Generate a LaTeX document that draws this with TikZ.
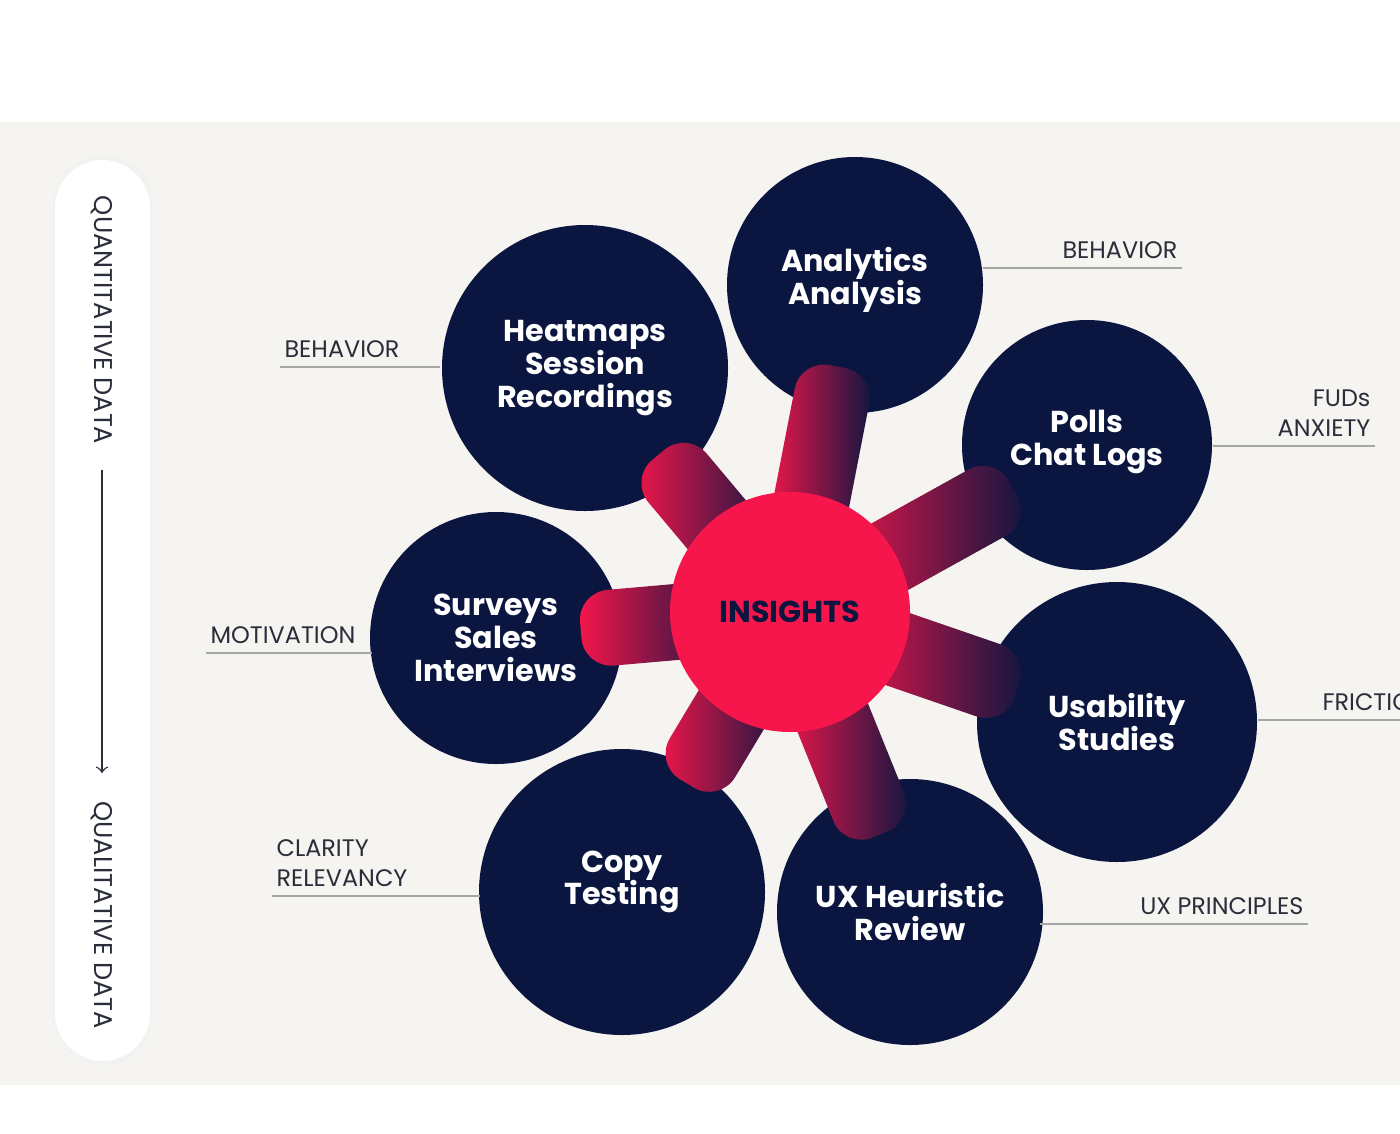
\documentclass[tikz,border=0pt]{standalone}
\usepackage{fontspec}
\setmainfont{Poppins}
\usetikzlibrary{calc}
\usetikzlibrary{positioning}
\definecolor{navy}{HTML}{0B1640}
\definecolor{insred}{HTML}{F7164B}
\definecolor{paper}{HTML}{F6F4F0}
\definecolor{ink}{HTML}{2A2E3A}
\begin{document}
\begin{tikzpicture}[semithick]
	\tikzstyle{sat}=[circle, fill=navy, text=white, font=\bfseries\fontsize{8.6}{9.3}\selectfont, align=center, inner sep=0pt]
	\tikzstyle{tag}=[font=\fontsize{6.8}{8.5}\selectfont, text=ink, inner sep=1pt]
	\tikzstyle{rule}=[draw=gray!70, thin]
	\useasboundingbox (0,0) rectangle (14,11.33);
	\clip (0,0) rectangle (14,11.33);
	\fill[white] (0,0) rectangle (14,11.33);
	\fill[paper] (0,0.48) rectangle (14,10.11);
	% scale bar on the left
	\fill[gray!10, rounded corners=0.48cm] (0.53,0.68) rectangle (1.53,9.77);
	\fill[white, rounded corners=0.48cm] (0.55,0.72) rectangle (1.50,9.73);
	\node[tag, rotate=-90, font=\fontsize{7.3}{9}\selectfont] (quan) at (1.02,8.13) {QUANTITATIVE DATA};
	\node[tag, rotate=-90, font=\fontsize{7.3}{9}\selectfont] (qual) at (1.02,2.18) {QUALITATIVE DATA};
	\coordinate (ta) at (1.02,6.63);
	\coordinate (tb) at (1.02,3.60);
	\draw[->, thin, ink] (ta) -- (tb);
	% circles
	\node[sat, minimum size=2.86cm] (heat) at (5.85,7.65) {};
	\node[sat, minimum size=2.56cm] (ana) at (8.55,8.48) {};
	\node[sat, minimum size=2.50cm] (poll) at (10.87,6.88) {};
	\node[sat, minimum size=2.80cm] (usa) at (11.17,4.11) {};
	\node[sat, minimum size=2.66cm] (ux) at (9.10,2.21) {};
	\node[sat, minimum size=2.86cm] (copy) at (6.22,2.41) {};
	\node[sat, minimum size=2.52cm] (surv) at (4.96,4.95) {};
	\coordinate (mid) at (7.90,5.21);
	% spokes
	\foreach \a/\l in {130/2.05, 79/2.5, 29/2.55, -19/2.4, -68/2.4, -121/2.0, 185/2.1}
		\shade[left color=insred, right color=navy, rounded corners=0.3cm, shift={(mid)}, rotate=\a] (0.6,-0.38) rectangle (\l,0.38);
	\node[circle, fill=insred, minimum size=2.40cm] (ins) at (mid) {};
	% texts
	\node[sat, fill=none] at (heat) {Heatmaps\\Session\\Recordings};
	\node[sat, fill=none] at ([yshift=0.05cm]ana.center) {Analytics\\Analysis};
	\node[sat, fill=none] at ([yshift=0.03cm]poll.center) {Polls\\Chat Logs};
	\node[sat, fill=none] at (usa) {Usability\\Studies};
	\node[sat, fill=none] at (ux) {UX Heuristic\\Review};
	\node[sat, fill=none] at ([yshift=0.1cm]copy.center) {Copy\\Testing};
	\node[sat, fill=none] at (surv) {Surveys\\Sales\\Interviews};
	\node[sat, fill=none, text=navy] at (ins) {INSIGHTS};
	% side labels
	\draw[rule] (9.83,8.65) -- (11.82,8.65);
	\node[tag, anchor=south east] (beh1) at (11.82,8.70) {BEHAVIOR};
	\draw[rule] (2.80,7.66) -- (4.40,7.66);
	\node[tag, anchor=south west] (beh2) at (2.80,7.71) {BEHAVIOR};
	\draw[rule] (12.13,6.87) -- (13.75,6.87);
	\node[tag, anchor=south east, align=right] (fud) at (13.75,6.92) {FUDs\\ANXIETY};
	\draw[rule] (12.58,4.13) -- (14,4.13);
	\node[tag, anchor=south west] (fric) at (13.18,4.18) {FRICTION};
	\draw[rule] (10.40,2.09) -- (13.08,2.09);
	\node[tag, anchor=south east] (uxp) at (13.08,2.14) {UX PRINCIPLES};
	\draw[rule] (2.72,2.37) -- (4.80,2.37);
	\node[tag, anchor=south west, align=left] (clar) at (2.72,2.42) {CLARITY\\RELEVANCY};
	\draw[rule] (2.06,4.80) -- (3.72,4.80);
	\node[tag, anchor=south west] (mot) at (2.06,4.85) {MOTIVATION};
\end{tikzpicture}
\end{document}
